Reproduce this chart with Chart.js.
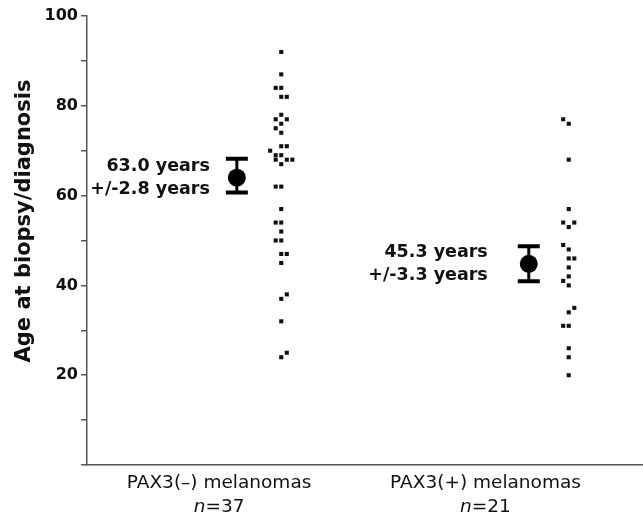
<!DOCTYPE html>
<html>
<head>
<meta charset="utf-8">
<script src="https://cdn.jsdelivr.net/npm/chart.js@4/dist/chart.umd.min.js"></script>
<style>
  body { margin: 0; background: #fff; }
</style>
</head>
<body>
<canvas id="ageChart" width="643" height="521"></canvas>
<script>
// Group centres on a 0-100 horizontal scale
const groupNames = ['PAX3(\u2013) melanomas', 'PAX3(+) melanomas'];
const groupCounts = ['37', '21'];
const groupX = [35, 86.8];

// Individual ages and their small sideways offsets
const negAges   = [92, 87, 84, 84, 82, 82, 78, 77, 77, 76, 75, 74, 71, 71, 70, 69, 68, 69, 68, 68, 67, 62, 62, 57, 54, 54, 52, 50, 50, 47, 47, 45, 38, 37, 32, 25, 24];
const negJitter = [0, 0, -1, 0, 0, 1, 0, -1, 1, 0, -1, 0, 0, 1, -2, -1, -1, 0, 1, 2, 0, -1, 0, 0, -1, 0, 0, -1, 0, 0, 1, 0, 1, 0, 0, 1, 0];
const posAges   = [77, 76, 68, 57, 54, 54, 53, 49, 48, 46, 46, 44, 42, 41, 40, 35, 34, 31, 31, 26, 24, 20];
const posJitter = [-1, 0, 0, 0, -1, 1, 0, -1, 0, 0, 1, 0, 0, -1, 0, 1, 0, -1, 0, 0, 0, 0];

// Mean markers with error bar ends
const meanX    = [27, 79.6];
const meanAge  = [64, 44.8];
const errLow   = [60.7, 40.9];
const errHigh  = [68.2, 48.7];
const meanText = [['63.0 years', '+/-2.8 years'], ['45.3 years', '+/-3.3 years']];

const ageTicks = [20, 40, 60, 80, 100];

const negPoints = negAges.map((a, i) => ({ x: groupX[0] + negJitter[i], y: a }));
const posPoints = posAges.map((a, i) => ({ x: groupX[1] + posJitter[i], y: a }));
const meanPoints = meanAge.map((a, i) => ({ x: meanX[i], y: a }));

const FONT = '"DejaVu Sans", sans-serif';

// error bars (vertical line + caps)
const errorBars = {
    id: 'errorBars',
    beforeDatasetsDraw(chart) {
        const { ctx, scales: { x, y } } = chart;
        ctx.save();
        ctx.strokeStyle = '#000';
        meanX.forEach((mx, i) => {
            const px = x.getPixelForValue(mx);
            const top = y.getPixelForValue(errHigh[i]);
            const bot = y.getPixelForValue(errLow[i]);
            ctx.lineWidth = 3;
            ctx.beginPath();
            ctx.moveTo(px, top);
            ctx.lineTo(px, bot);
            ctx.stroke();
            ctx.lineWidth = 4;
            ctx.beginPath();
            ctx.moveTo(px - 11, top);
            ctx.lineTo(px + 11, top);
            ctx.moveTo(px - 11, bot);
            ctx.lineTo(px + 11, bot);
            ctx.stroke();
        });
        ctx.restore();
    }
};

// mean labels, category labels and axis title
const textLayer = {
    id: 'textLayer',
    afterDraw(chart) {
        const { ctx, scales: { x, y } } = chart;
        ctx.save();
        ctx.fillStyle = '#111';

        // mean annotations, right aligned left of the marker
        const noteGap = [27, 41];
        ctx.font = 'bold 17.5px ' + FONT;
        ctx.textAlign = 'right';
        ctx.textBaseline = 'middle';
        meanText.forEach((lines, i) => {
            const px = x.getPixelForValue(meanX[i]) - noteGap[i];
            const py = y.getPixelForValue(meanAge[i]);
            ctx.fillText(lines[0], px, py - 11);
            ctx.fillText(lines[1], px, py + 12);
        });

        // category labels under the axis
        const labelX = [23.8, 71.8];
        const bottom = chart.chartArea.bottom;
        const lf = '18.5px ' + FONT;
        ctx.textAlign = 'left';
        groupNames.forEach((name, i) => {
            const cx = x.getPixelForValue(labelX[i]);
            ctx.font = lf;
            const w = ctx.measureText(name).width;
            ctx.fillText(name, cx - w / 2, bottom + 18);
            ctx.font = 'italic ' + lf;
            const wn = ctx.measureText('n').width;
            ctx.font = lf;
            const rest = '=' + groupCounts[i];
            const wr = ctx.measureText(rest).width;
            const start = cx - (wn + wr) / 2;
            ctx.font = 'italic ' + lf;
            ctx.fillText('n', start, bottom + 42);
            ctx.font = lf;
            ctx.fillText(rest, start + wn, bottom + 42);
        });

        // y axis title
        ctx.translate(25, 221);
        ctx.rotate(-Math.PI / 2);
        ctx.textAlign = 'center';
        ctx.font = 'bold 21px ' + FONT;
        ctx.fillText('Age at biopsy/diagnosis', 0, 0);
        ctx.restore();
    }
};

new Chart(document.getElementById('ageChart').getContext('2d'), {
    type: 'scatter',
    data: {
        datasets: [
            {
                label: 'PAX3(-)',
                data: negPoints,
                pointStyle: 'rect',
                pointRadius: 2.9,
                pointBorderWidth: 0,
                backgroundColor: '#111'
            },
            {
                label: 'PAX3(+)',
                data: posPoints,
                pointStyle: 'rect',
                pointRadius: 2.9,
                pointBorderWidth: 0,
                backgroundColor: '#111'
            },
            {
                label: 'Mean',
                data: meanPoints,
                pointStyle: 'circle',
                pointRadius: 9,
                pointBorderWidth: 0,
                backgroundColor: '#000'
            }
        ]
    },
    options: {
        responsive: false,
        animation: false,
        layout: { autoPadding: false, padding: { top: 16, right: 1, left: 0, bottom: 0 } },
        plugins: {
            legend: { display: false },
            tooltip: { enabled: false }
        },
        scales: {
            x: {
                type: 'linear',
                min: 0,
                max: 100,
                grid: { display: false },
                border: { display: true, color: '#555', width: 1.5 },
                ticks: { display: false },
                afterFit(scale) { scale.height = 56; }
            },
            y: {
                min: 0,
                max: 100,
                grid: {
                    drawOnChartArea: false,
                    drawTicks: true,
                    tickLength: 6,
                    color: '#555',
                    lineWidth: 1.5
                },
                border: { display: true, color: '#555', width: 1.5 },
                ticks: {
                    stepSize: 10,
                    padding: 3,
                    color: '#111',
                    font: { family: FONT, size: 16, weight: 'bold' },
                    callback: (v) => ageTicks.includes(v) ? v : ''
                },
                afterFit(scale) { scale.width = 87; }
            }
        }
    },
    plugins: [errorBars, textLayer]
});
</script>
</body>
</html>
